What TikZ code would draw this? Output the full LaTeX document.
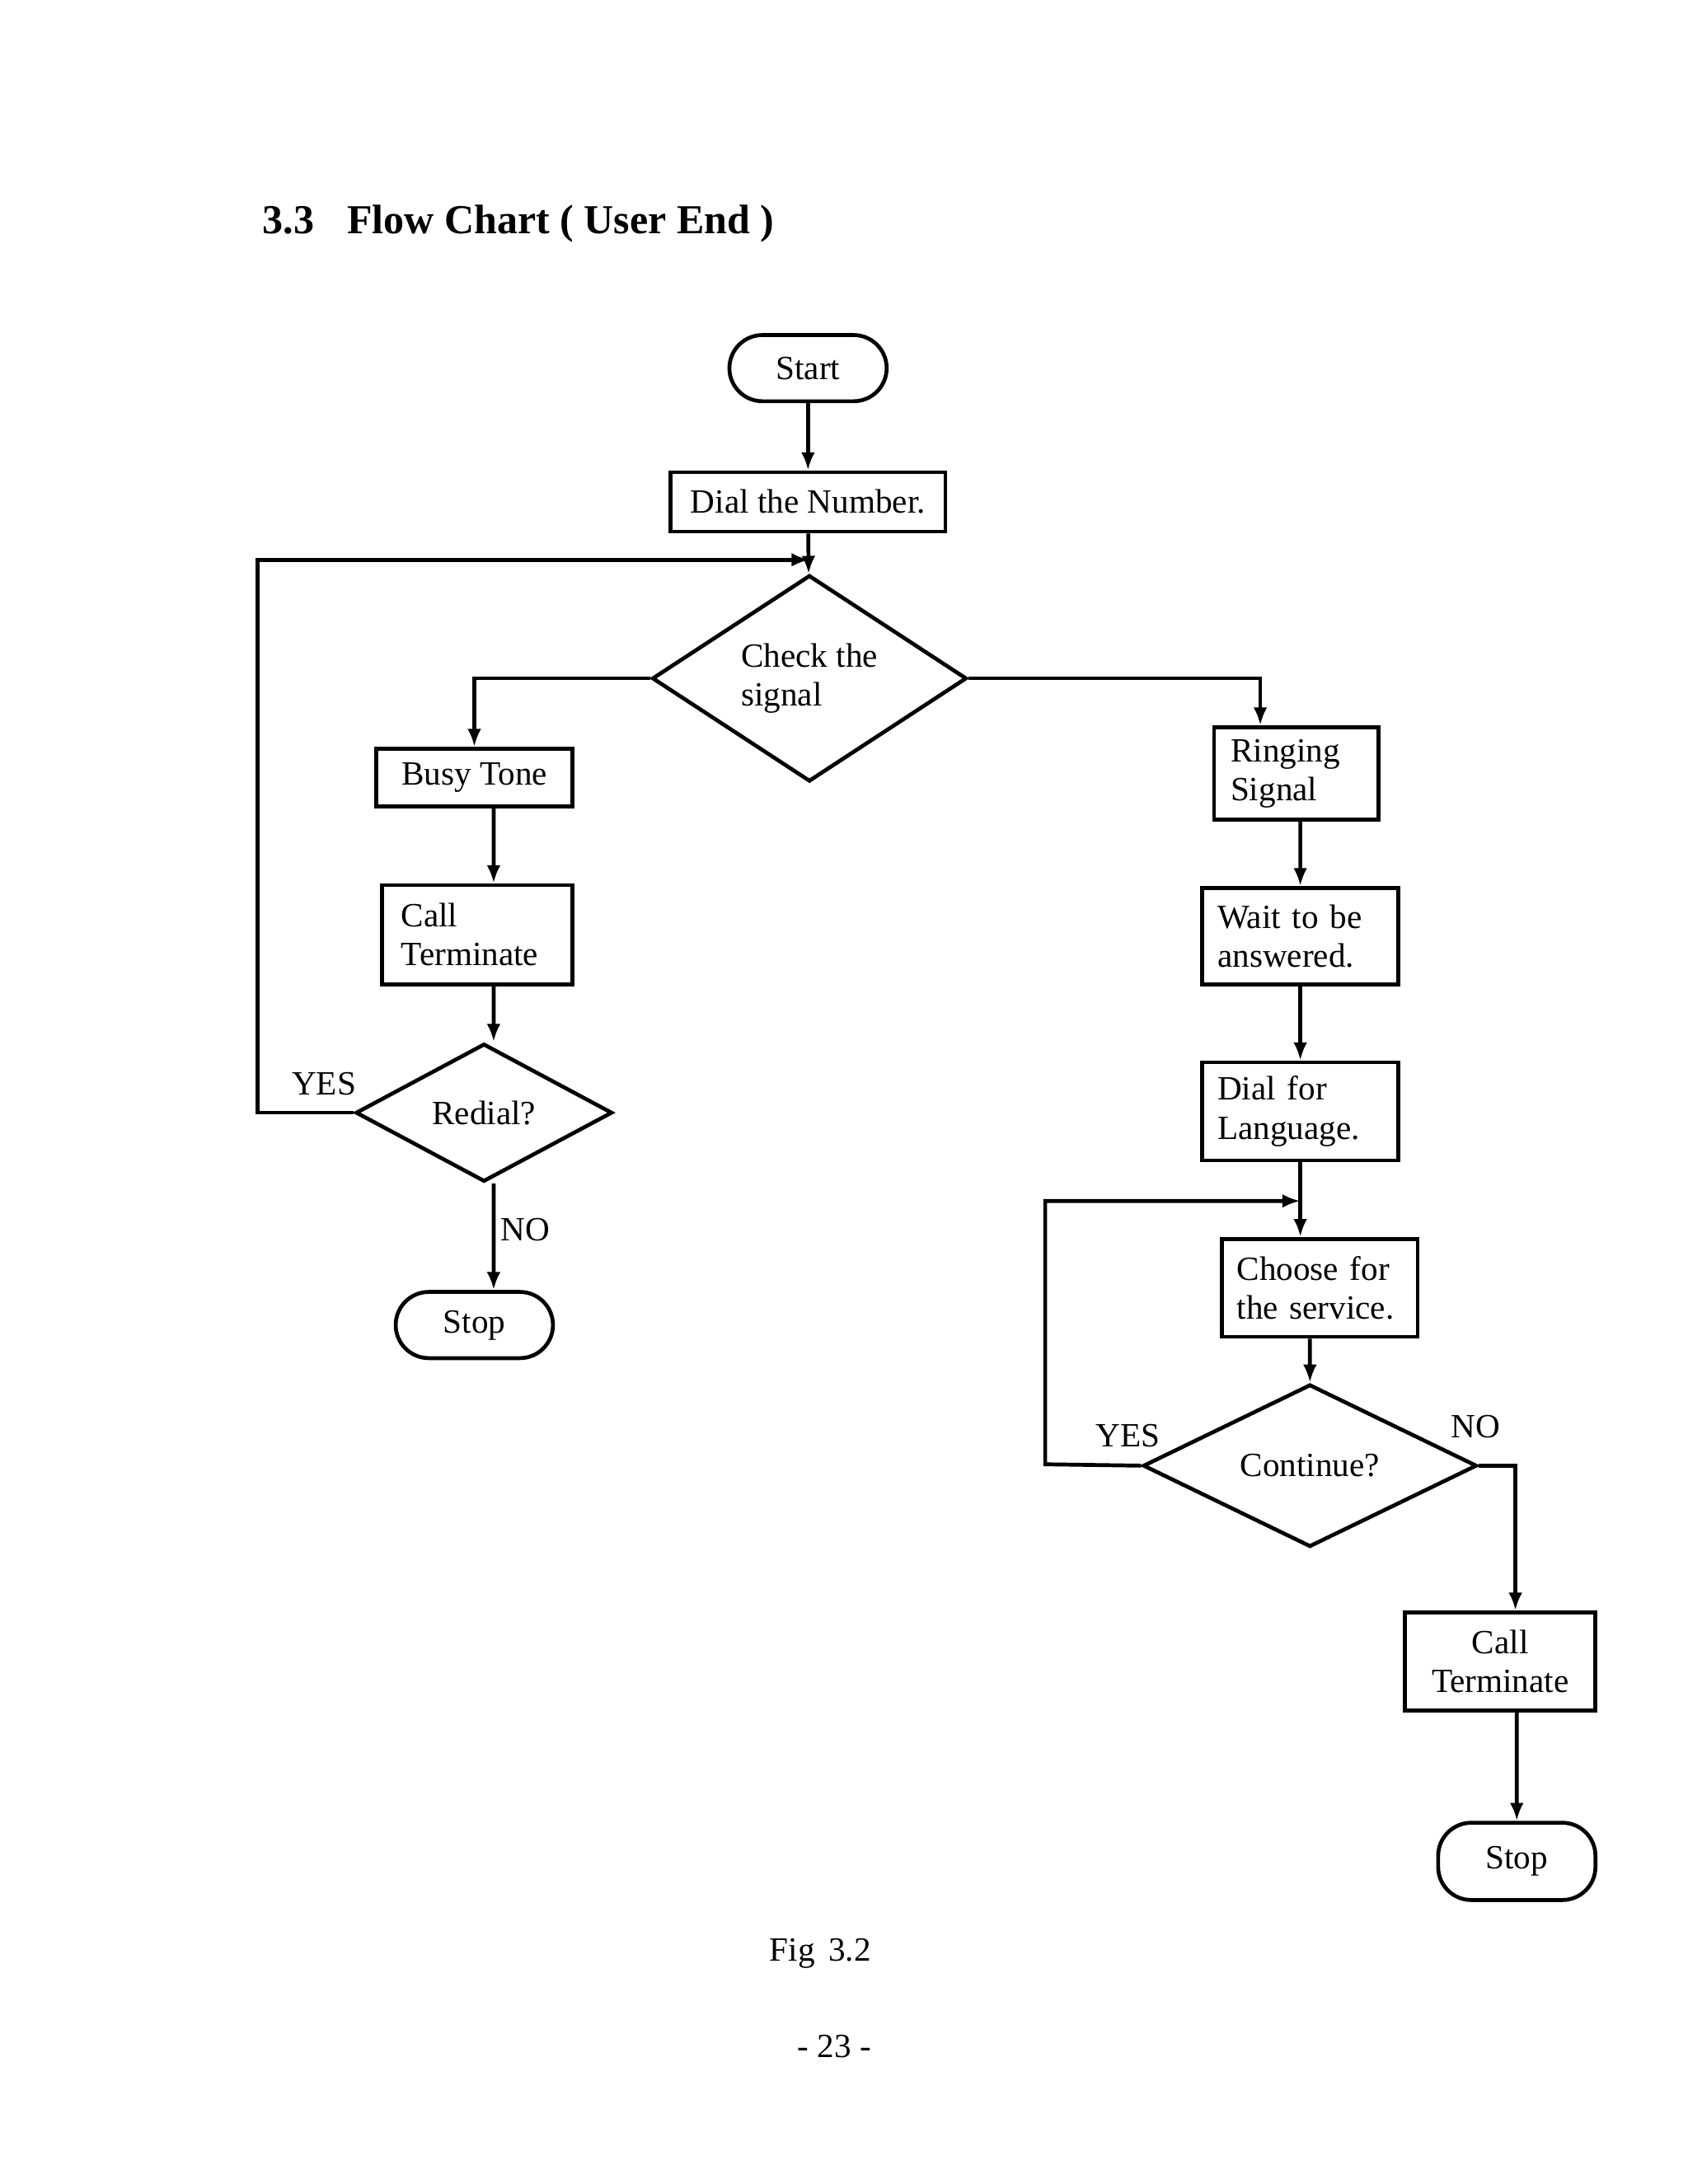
\documentclass[tikz,border=0pt]{standalone}
\usepackage{fontspec}
\setmainfont{Liberation Serif}
\usetikzlibrary{shapes.geometric,arrows.meta}
\tikzset{
  box/.style={draw,thick,align=left,inner sep=0pt,font=\fontsize{7}{8}\selectfont},
  term/.style={draw,thick,rounded corners=0.24cm,inner sep=0pt,font=\fontsize{7}{8}\selectfont},
  dec/.style={draw,thick,diamond,inner sep=0pt,font=\fontsize{7}{8}\selectfont,align=left},
  lbl/.style={font=\fontsize{7}{8}\selectfont},
  arr/.style={thick,-{Latex[length=1.3mm,width=1mm]}}
}
\begin{document}
\begin{tikzpicture}[x=0.01cm,y=-0.01cm]
  \useasboundingbox (0,0) rectangle (1224,1584);
  \node[anchor=west,font=\bfseries\fontsize{8.5}{10}\selectfont] at (178,162) {3.3\hspace{0.8em}Flow Chart ( User End )};

  % main column
  \node[term,minimum width=1.14cm,minimum height=0.48cm] (start) at (586,267) {Start};
  \node[box,minimum width=1.99cm,minimum height=0.43cm,align=center] (dial) at (586,364) {Dial the Number.};
  \node[dec,minimum width=2.28cm,minimum height=1.29cm] (check) at (587,492) {Check the\\signal};
  \coordinate (top) at (587,406);

  % left branch
  \node[box,minimum width=1.42cm,minimum height=0.42cm,align=center] (busy) at (344,564) {Busy Tone};
  \node[box,minimum width=1.38cm,minimum height=0.72cm,text width=1.1cm] (term1) at (346,678) {Call\\Terminate};
  \node[dec,minimum width=1.86cm,minimum height=1.0cm] (redial) at (351,807) {Redial?};
  \node[term,minimum width=1.14cm,minimum height=0.48cm] (stop1) at (344,961) {Stop};
  \coordinate (lcorner) at (187,807);

  % right branch
  \node[box,minimum width=1.19cm,minimum height=0.67cm,text width=0.95cm] (ring) at (940,561) {Ringing\\Signal};
  \node[box,minimum width=1.42cm,minimum height=0.70cm,text width=1.2cm] (wait) at (943,679) {Wait to be\\answered.};
  \node[box,minimum width=1.42cm,minimum height=0.71cm,text width=1.2cm] (lang) at (943,806) {Dial for\\Language.};
  \node[box,minimum width=1.42cm,minimum height=0.71cm,text width=1.2cm] (serv) at (957,934) {Choose for\\the service.};
  \node[dec,minimum width=2.42cm,minimum height=1.0cm] (cont) at (950,1063) {Continue?};
  \node[box,minimum width=1.38cm,minimum height=0.71cm,align=center] (term2) at (1088,1205) {Call\\Terminate};
  \node[term,minimum width=1.14cm,minimum height=0.56cm] (stop2) at (1100,1350) {Stop};
  \coordinate (join) at (943,871);
  \coordinate (rcorner) at (758,1062);

  % connectors
  \draw[arr] (start) -- (dial);
  \draw[arr] (dial) -- (check);
  \draw[arr] (check.west) -| (busy.north);
  \draw[arr] ([xshift=0.14cm]busy.south) -- ([xshift=0.12cm]term1.north);
  \draw[arr] ([xshift=0.12cm]term1.south) -- (redial.north -| 358,0);
  \draw[arr] (redial.south -| 358,0) -- ([xshift=0.14cm]stop1.north);
  \draw[arr] (redial.west) -- (lcorner) |- (top);
  \draw[arr] (check.east) -| ([xshift=-0.26cm]ring.north);
  \draw[arr] ([xshift=0.03cm]ring.south) -- (wait);
  \draw[arr] (wait) -- (lang);
  \draw[arr] (lang) -- (lang |- serv.north);
  \draw[arr] ([xshift=-0.07cm]serv.south) -- (cont);
  \draw[arr] (cont.west) -- (rcorner) |- (join);
  \draw[arr] (cont.east) -| ([xshift=0.11cm]term2.north);
  \draw[arr] ([xshift=0.12cm]term2.south) -- (stop2);

  \node[lbl] at (235,786) {YES};
  \node[lbl] at (381,892) {NO};
  \node[lbl] at (818,1041) {YES};
  \node[lbl] at (1070,1035) {NO};

  \node[lbl] at (595,1417) {Fig\hspace{0.4em}3.2};
  \node[lbl] at (605,1484) {- 23 -};
\end{tikzpicture}
\end{document}
